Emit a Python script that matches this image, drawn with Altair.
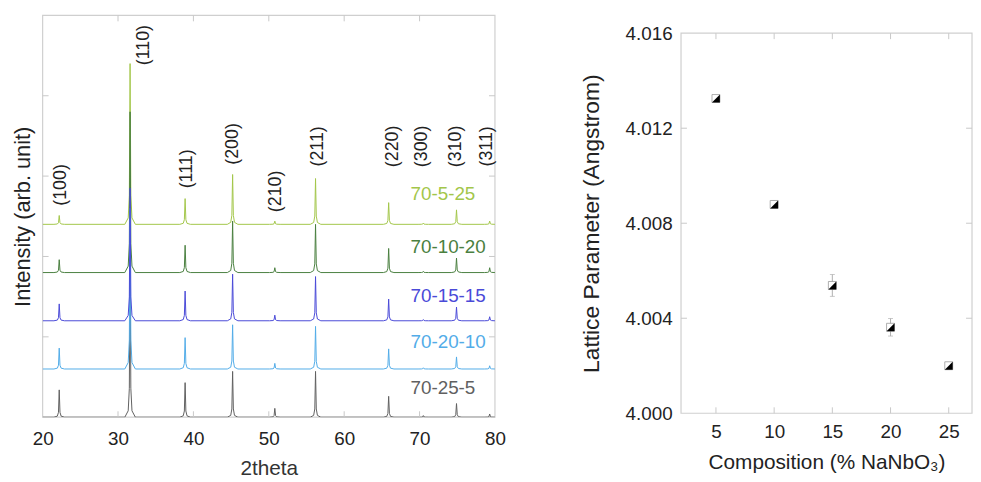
import altair as alt
import pandas as pd

FONT = "Liberation Sans"

# ---------------- XRD data ----------------
series = ["70-5-25", "70-10-20", "70-15-15", "70-20-10", "70-25-5"]
colors = ["#a3c64a", "#4a8040", "#4a4ad8", "#52ace8", "#606060"]
text_colors = ["#9dc23c", "#2f6a28", "#2323d0", "#2f9ae6", "#222222"]
offsets = [2.4, 1.8, 1.2, 0.6, 0.0]
label_x = [68.8, 68.8, 68.8, 68.8, 68.8]
label_y = [2.78, 2.12, 1.51, 0.93, 0.36]

peak_pos = [22.2, 31.6, 38.9, 45.2, 50.8, 56.2, 65.9, 70.5, 74.9, 79.3]
peak_h = {
    "70-5-25":  [0.11, 2.00, 0.32, 0.62, 0.04, 0.57, 0.27, 0.015, 0.18, 0.04],
    "70-10-20": [0.16, 2.00, 0.34, 0.64, 0.06, 0.60, 0.30, 0.015, 0.18, 0.06],
    "70-15-15": [0.21, 1.65, 0.37, 0.58, 0.07, 0.55, 0.27, 0.015, 0.17, 0.05],
    "70-20-10": [0.26, 2.00, 0.39, 0.55, 0.07, 0.53, 0.25, 0.015, 0.15, 0.04],
    "70-25-5":  [0.34, 2.00, 0.43, 0.57, 0.11, 0.57, 0.26, 0.020, 0.17, 0.04],
}
draw_order = ["70-5-25", "70-10-20", "70-25-5", "70-20-10", "70-15-15"]

hkl = ["(100)", "(110)", "(111)", "(200)", "(210)", "(211)", "(220)", "(300)", "(310)", "(311)"]
hkl_x = [22.5, 33.5, 39.2, 45.3, 51.0, 56.5, 66.5, 70.3, 74.9, 78.9]
hkl_y = [2.89, 4.63, 3.09, 3.40, 2.81, 3.37, 3.37, 3.37, 3.37, 3.37]

x_ticks = [20, 30, 40, 50, 60, 70, 80]
x_dom = [20, 80]
y_dom = [0, 5]
y_ticks_left = [1, 2, 3, 4]

# ---------------- lattice parameter data ----------------
comp = [5, 10, 15, 20, 25]
lattice = [4.01325, 4.00879, 4.00538, 4.00362, 4.00200]
lattice_err = [0.00010, 0.00015, 0.00046, 0.00037, 0.00008]
comp_ticks = [5, 10, 15, 20, 25]
comp_dom = [2, 27]
lat_ticks = [4.000, 4.004, 4.008, 4.012, 4.016]
lat_dom = [4.000, 4.016]

# peak profile template (offset in degrees, fraction of peak height)
prof_dx = [-0.7, -0.25, -0.1, 0.0, 0.1, 0.25, 0.7]
prof_f = [0.0, 0.04, 0.18, 1.0, 0.18, 0.04, 0.0]

rows = []
for s, off in zip(series, offsets):
    rows.append({"series": s, "x": 20.0, "y": off})
    for p, h in zip(peak_pos, peak_h[s]):
        for dx, f in zip(prof_dx, prof_f):
            xx = p + dx
            if 20 <= xx <= 80:
                rows.append({"series": s, "x": xx, "y": off + f * h})
    rows.append({"series": s, "x": 80.0, "y": off})
xrd = pd.DataFrame(rows)

W1, H1 = 457, 406
W2, H2 = 294, 402          # right plot group; frame drawn from 4.016 down to 4.000
R_TOP = 18                 # pixel where 4.016 sits inside the right group
FRAME_C = "#cfcfcf"
TICK_C = "#c8c8c8"
TL = 6

xs = alt.Scale(domain=x_dom, nice=False, zero=False)
ys = alt.Scale(domain=y_dom, nice=False, zero=False)
cs = alt.Scale(domain=series, range=colors)

x_axis = alt.Axis(values=x_ticks, format="d", ticks=False, domain=False, grid=False,
                  labelFlush=False,
                  labelFontSize=19, labelPadding=13, labelColor="#222", labelFont=FONT,
                  title="2theta", titleFontSize=21, titleFont=FONT, titleFontWeight="normal",
                  titleColor="#333", titlePadding=9)
y_axis = alt.Axis(labels=False, ticks=False, domain=False, grid=False,
                  title="Intensity (arb. unit)", titleFontSize=22, titleFont=FONT,
                  titleFontWeight="normal", titleColor="#222", titlePadding=8)


def X(field):
    return alt.X(field, scale=xs, axis=x_axis)


def Y(field):
    return alt.Y(field, scale=ys, axis=y_axis)


frame1_df = pd.DataFrame({"x0": [x_dom[0]], "x1": [x_dom[1]], "y0": [y_dom[0]], "y1": [y_dom[1]]})
frame1 = alt.Chart(frame1_df).mark_rect(fillOpacity=0, stroke=FRAME_C, strokeWidth=1.2).encode(
    x=X("x0:Q"), x2="x1:Q", y=Y("y0:Q"), y2="y1:Q")

layers = []
for s in draw_order:
    layers.append(
        alt.Chart(xrd[xrd.series == s]).mark_line(strokeWidth=1.0, clip=True).encode(
            x=X("x:Q"), y=Y("y:Q"),
            color=alt.Color("series:N", scale=cs, legend=None),
        )
    )

lab_df = pd.DataFrame({"series": series, "x": label_x, "y": label_y})
labels = alt.Chart(lab_df).mark_text(align="left", baseline="middle", fontSize=19, font=FONT).encode(
    x=X("x:Q"), y=Y("y:Q"),
    text="series:N",
    color=alt.Color("series:N", scale=alt.Scale(domain=series, range=text_colors), legend=None),
)

hkl_df = pd.DataFrame({"t": hkl, "x": hkl_x, "y": hkl_y})
hkl_text = alt.Chart(hkl_df).mark_text(angle=270, align="center", baseline="middle",
                                       fontSize=18, font=FONT, color="#222").encode(
    x=X("x:Q"), y=Y("y:Q"), text="t:N")

xt_df = pd.DataFrame({"v": x_ticks[1:-1]})
yt_df = pd.DataFrame({"v": y_ticks_left})
tick_mark = dict(color=TICK_C, strokeWidth=1)
xt_bot = alt.Chart(xt_df).mark_rule(**tick_mark).encode(
    x=X("v:Q"), y=alt.value(H1), y2=alt.value(H1 - TL))
xt_top = alt.Chart(xt_df).mark_rule(**tick_mark).encode(
    x=X("v:Q"), y=alt.value(0), y2=alt.value(TL))
yt_l = alt.Chart(yt_df).mark_rule(**tick_mark).encode(
    y=Y("v:Q"), x=alt.value(0), x2=alt.value(TL))
yt_r = alt.Chart(yt_df).mark_rule(**tick_mark).encode(
    y=Y("v:Q"), x=alt.value(W1), x2=alt.value(W1 - TL))

left = alt.layer(frame1, *layers, xt_bot, xt_top, yt_l, yt_r, labels, hkl_text).properties(
    width=W1, height=H1)

# ---------------- right panel ----------------
lat_df = pd.DataFrame({"c": comp, "a": lattice, "e": lattice_err})
lat_df["lo"] = lat_df["a"] - lat_df["e"]
lat_df["hi"] = lat_df["a"] + lat_df["e"]

cx = alt.Scale(domain=comp_dom, nice=False, zero=False)
ly = alt.Scale(domain=lat_dom, nice=False, zero=False, range=[H2, R_TOP])

rx_axis = alt.Axis(values=comp_ticks, ticks=False, domain=False, grid=False, labelFlush=False,
                   labelFontSize=19, labelPadding=9, labelColor="#222", labelFont=FONT,
                   title="Composition (% NaNbO₃)", titleFontSize=21, titleFont=FONT,
                   titleFontWeight="normal", titleColor="#222", titlePadding=11)
ry_axis = alt.Axis(values=lat_ticks, format=".3f", ticks=False, domain=False, grid=False,
                   labelFlush=False,
                   labelFontSize=19, labelPadding=9, labelColor="#222", labelFont=FONT,
                   title="Lattice Parameter (Angstrom)", titleFontSize=23, titleFont=FONT,
                   titleFontWeight="normal", titleColor="#222", titlePadding=22)


def RX(field):
    return alt.X(field, scale=cx, axis=rx_axis)


def RY(field):
    return alt.Y(field, scale=ly, axis=ry_axis)


frame2_df = pd.DataFrame({"x0": [comp_dom[0]], "x1": [comp_dom[1]],
                          "y0": [lat_dom[0]], "y1": [lat_dom[1]]})
frame2 = alt.Chart(frame2_df).mark_rect(fillOpacity=0, stroke=FRAME_C, strokeWidth=1.2).encode(
    x=RX("x0:Q"), x2="x1:Q", y=RY("y0:Q"), y2="y1:Q")

err = alt.Chart(lat_df).mark_rule(color="#b0b0b0", strokeWidth=1).encode(
    x=RX("c:Q"), y=RY("lo:Q"), y2="hi:Q")
cap_lo = alt.Chart(lat_df).mark_tick(color="#b0b0b0", size=5, thickness=1, orient="horizontal").encode(
    x=RX("c:Q"), y=RY("lo:Q"))
cap_hi = alt.Chart(lat_df).mark_tick(color="#b0b0b0", size=5, thickness=1, orient="horizontal").encode(
    x=RX("c:Q"), y=RY("hi:Q"))
pt_bg = alt.Chart(lat_df).mark_point(shape="square", size=64, filled=True, fill="white",
                                      stroke="#999", strokeWidth=0.8, opacity=1).encode(
    x=RX("c:Q"), y=RY("a:Q"))
pt_half = alt.Chart(lat_df).mark_point(shape="M1,-1L1,1L-1,1Z", size=64, filled=True,
                                        color="#000", opacity=1).encode(
    x=RX("c:Q"), y=RY("a:Q"))

ct_df = pd.DataFrame({"v": comp_ticks})
lt_df = pd.DataFrame({"v": lat_ticks[1:-1]})
rxt_top = alt.Chart(ct_df).mark_rule(**tick_mark).encode(
    x=RX("v:Q"), y=alt.value(R_TOP), y2=alt.value(R_TOP + TL))
rxt_bot = alt.Chart(ct_df).mark_rule(**tick_mark).encode(
    x=RX("v:Q"), y=alt.value(H2), y2=alt.value(H2 - TL))
ryt_l = alt.Chart(lt_df).mark_rule(**tick_mark).encode(
    y=RY("v:Q"), x=alt.value(0), x2=alt.value(TL))
ryt_r = alt.Chart(lt_df).mark_rule(**tick_mark).encode(
    y=RY("v:Q"), x=alt.value(W2), x2=alt.value(W2 - TL))

right = alt.layer(frame2, err, cap_lo, cap_hi, pt_bg, pt_half,
                  rxt_top, rxt_bot, ryt_l, ryt_r).properties(width=W2, height=H2)

chart = alt.hconcat(left, right, spacing=75).properties(
    padding={"left": 4, "top": 4, "right": 0, "bottom": 0},
    background="white",
).configure_view(strokeOpacity=0).configure_concat(spacing=75)

chart.save("out.html", embed_options={"renderer": "svg", "actions": False})
